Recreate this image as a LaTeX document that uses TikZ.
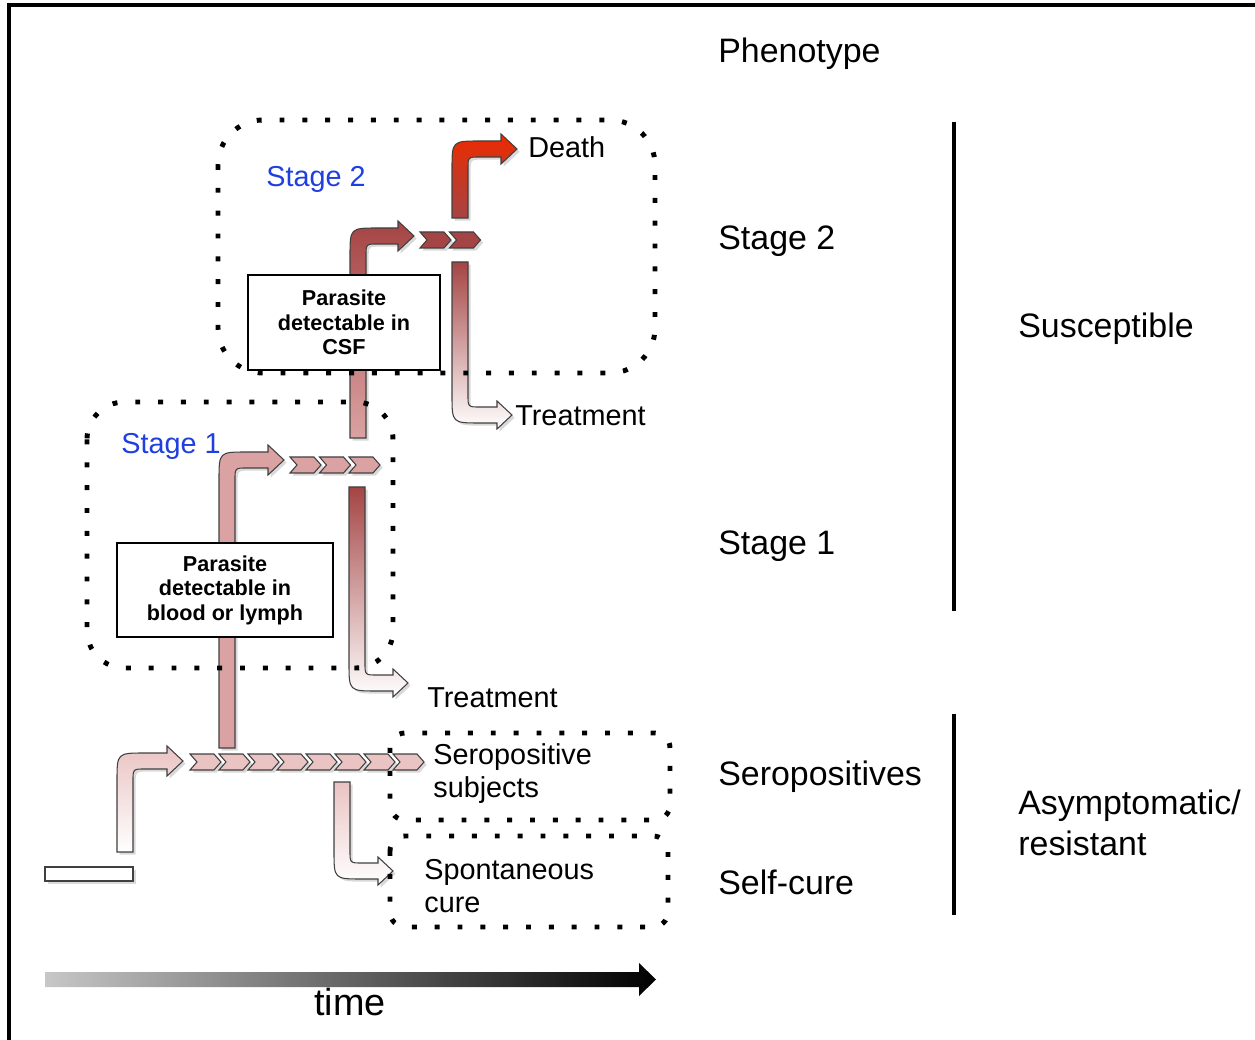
\documentclass[tikz,border=0pt]{standalone}
\usepackage{fontspec}
\setmainfont{Liberation Sans}
\usepackage{tikz}
\usetikzlibrary{shadows}

\definecolor{stageblue}{HTML}{1F3FE0}
\definecolor{palepink}{HTML}{EAC3C3}
\definecolor{midpink}{HTML}{DAA2A2}
\definecolor{darkred}{HTML}{A54444}
\definecolor{brightred}{HTML}{EC2A00}

\begin{document}
\begin{tikzpicture}[
    x=0.02cm, y=-0.02cm,
    phen/.style={anchor=base west, inner sep=0pt, font=\fontsize{19.3}{23.2}\selectfont},
    lab/.style={anchor=base west, inner sep=0pt, font=\fontsize{16.4}{18.7}\selectfont},
    stagelab/.style={lab, text=stageblue},
    detect/.style={draw, fill=white, line width=0.75pt, align=center,
        font=\bfseries\fontsize{12.3}{13.9}\selectfont},
    dotbox/.style={draw, line width=2.8pt, dash pattern=on 2.8pt off 10.2pt},
    flow/.style={draw=black!75, line width=0.6pt,
        drop shadow={opacity=0.3, shadow xshift=1.5pt, shadow yshift=-1.5pt}},
    pics/upturn/.style n args={3}{code={
        \path[flow, #3] (0,0) -- (0,-#1+20) .. controls (0,-#1-8) .. (28,-#1-8)
            -- (#2-16,-#1-8) -- (#2-16,-#1-15) -- (#2,-#1) -- (#2-16,-#1+15)
            -- (#2-16,-#1+8) -- (28,-#1+8) .. controls (16,-#1+8) .. (16,-#1+20)
            -- (16,0) -- cycle;
    }},
    pics/downturn/.style n args={3}{code={
        \path[flow, #3] (0,0) -- (0,#1-20) .. controls (0,#1+8) .. (28,#1+8)
            -- (#2-15,#1+8) -- (#2-15,#1+14) -- (#2,#1) -- (#2-15,#1-14)
            -- (#2-15,#1-8) -- (28,#1-8) .. controls (16,#1-8) .. (16,#1-20)
            -- (16,0) -- cycle;
    }},
    pics/chevron/.style={code={
        \path[flow, fill=#1] (0,-8) -- (24,-8) -- (31,0) -- (24,8) -- (0,8) -- (7,0) -- cycle;
    }}
]
\useasboundingbox (0,0) rectangle (1255,1040);
\draw[line width=2pt] (9,1040) -- (9,5) -- (1255,5);

% flows
\draw[flow, fill=white] (45,867) rectangle (133,881);
\pic at (117,852) {upturn={91}{66}{top color=palepink, bottom color=white}};
\foreach \i in {0,...,7} \pic at ({190+29*\i},762) {chevron=palepink};
\pic at (334,782) {downturn={89}{59}{top color=palepink, bottom color=white}};
\pic at (219,748) {upturn={288}{65}{fill=midpink}};
\foreach \i in {0,...,2} \pic at ({290+29.5*\i},465) {chevron=midpink};
\pic at (349,487) {downturn={196}{59}{top color=darkred, bottom color=white}};
\pic at (350,438) {upturn={202}{64}{top color=darkred, bottom color=midpink}};
\foreach \i in {0,1} \pic at ({420+29.5*\i},240) {chevron=darkred};
\pic at (452,262) {downturn={153}{60}{top color=darkred, bottom color=white}};
\pic at (452,218) {upturn={69}{65}{top color=brightred, bottom color=darkred}};

% stage boxes
\draw[dotbox, rounded corners=0.9cm] (218,120) rectangle (655,373);
\draw[dotbox, rounded corners=0.75cm] (87,402) rectangle (393,668);
\draw[dotbox, rounded corners=0.3cm] (390,733) rectangle (670,820);
\draw[dotbox, rounded corners=0.3cm] (390,836) rectangle (668,927);

\node[detect, minimum width=3.84cm, minimum height=1.9cm] (csf) at (344,322.5) {Parasite\\detectable in\\CSF};
\node[detect, minimum width=4.32cm, minimum height=1.88cm] (blood) at (225,590) {Parasite\\detectable in\\blood or lymph};

\node[stagelab] (st2) at (266,187) {Stage 2};
\node[stagelab] (st1) at (121,454) {Stage 1};
\node[lab] (death) at (528,158) {Death};
\node[lab] (treat2) at (515,426) {Treatment};
\node[lab] (treat1) at (427,707) {Treatment};
\node[lab, align=left] (sero) at (433,797) {Seropositive\\subjects};
\node[lab, align=left] (spont) at (424,912) {Spontaneous\\cure};

% phenotype column
\node[phen] (phenotype) at (718,63) {Phenotype};
\node[phen] (ph2) at (718,250) {Stage 2};
\node[phen] (ph1) at (718,555) {Stage 1};
\node[phen] (phsero) at (718,785) {Seropositives};
\node[phen] (phcure) at (718,894) {Self-cure};
\draw[line width=2.3pt] (954,122) -- (954,611);
\draw[line width=2.3pt] (954,714) -- (954,915);
\node[phen] (susc) at (1018,338) {Susceptible};
\node[phen, align=left] (asym) at (1018,855) {Asymptomatic/\\resistant};

% time axis
\shade[left color=black!22, right color=black] (45,972) -- (639,972) -- (639,963)
    -- (656,979.5) -- (639,996) -- (639,987) -- (45,987) -- cycle;
\node[anchor=base, font=\fontsize{21.5}{25}\selectfont] (time) at (350,1015) {time};
\end{tikzpicture}
\end{document}
